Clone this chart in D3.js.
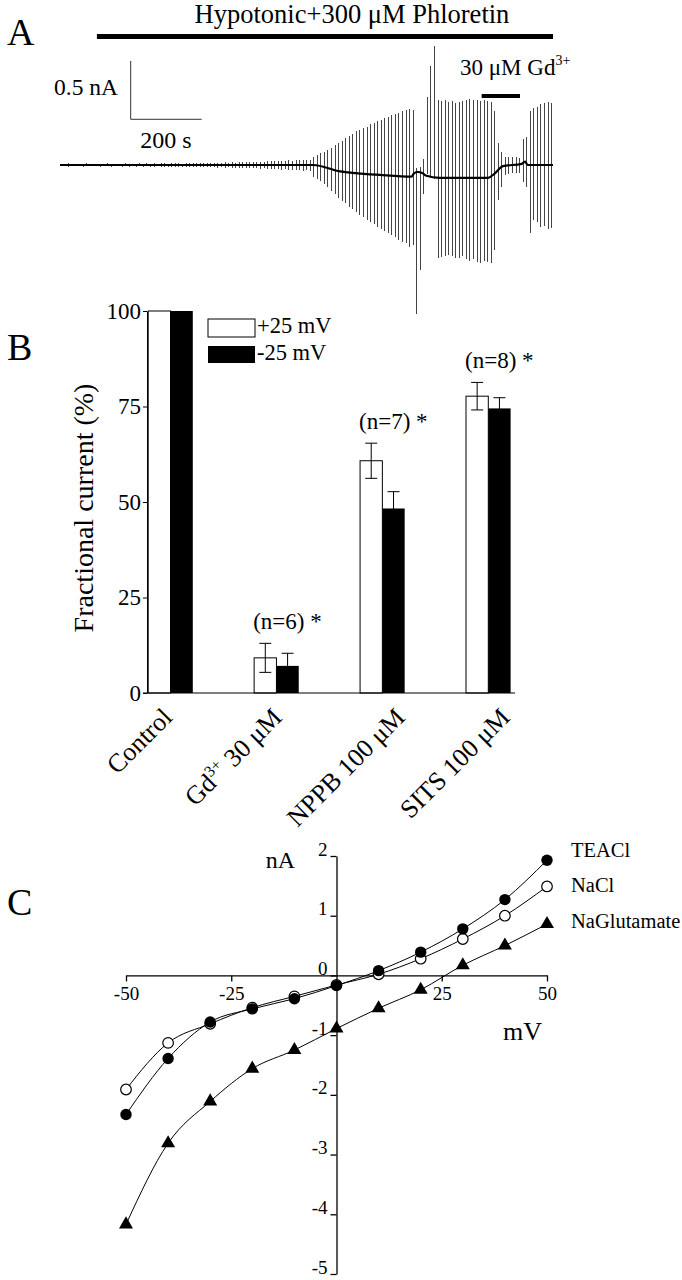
<!DOCTYPE html>
<html><head><meta charset="utf-8">
<script src="https://cdn.jsdelivr.net/npm/d3@7"></script>
<style>
body{margin:0;background:#fff}
svg{display:block}
text{font-family:"Liberation Serif","Times New Roman",serif;fill:#000}
</style>
</head><body>
<svg id="c" width="682" height="1280"></svg>
<script>
// ---------------- Panel A data (current trace) ----------------
const pulseStartS = 5;
const pulseIntervalS = 10;
const pulseUpper = [
.012,.010,.013,.011,.012,.010,.012,.013,.011,.012,
.010,.012,.011,.013,.012,.011,.012,.010,.013,.012,
.011,.012,.013,.012,.014,.012,.013,.011,.014,.013,
.012,.014,.013,.015,.012,.014,.013,.015,.014,.016,
.018,.017,.020,.019,.021,.018,.022,.020,.023,.021,.024,.022,.025,.023,.026,.024,
.030,.028,.034,.031,.036,.033,.038,.035,.040,.037,.042,.039,.044,.041,.046,
.07,.09,.10,.11,.13,.15,.17,.19,.21,.23,.25,.27,.29,.30,.32,.33,.35,.36,.38,.39,.40,.41,.43,.44,.45,.46,.47,.48,.47,
-.03,-.02,.05,.58,.85,1.02,
.56,.55,.56,.54,.55,.53,.54,.55,.56,.57,.56,.56,.55,.56,.55,
.54,.46,.19,.11,.07,.07,.07,.07,.06,
.22,.24,.46,.49,.50,.52,.53,.54,.53
];
const pulseLower = [
-.012,-.011,-.013,-.010,-.012,-.011,-.013,-.012,-.011,-.012,
-.011,-.013,-.012,-.011,-.013,-.012,-.011,-.013,-.012,-.014,
-.012,-.013,-.011,-.014,-.012,-.013,-.014,-.012,-.015,-.013,
-.014,-.013,-.015,-.014,-.016,-.014,-.015,-.016,-.015,-.017,
-.019,-.018,-.021,-.020,-.022,-.019,-.023,-.021,-.024,-.022,-.025,-.023,-.027,-.024,-.028,-.026,
-.032,-.030,-.036,-.033,-.038,-.035,-.041,-.037,-.043,-.040,-.045,-.042,-.048,-.044,-.050,
-.10,-.12,-.14,-.16,-.19,-.22,-.25,-.28,-.31,-.33,-.36,-.38,-.40,-.43,-.45,-.47,-.49,-.51,-.53,-.55,-.57,-.58,-.60,-.62,-.64,-.66,-.67,-.70,-.69,
-1.28,-.90,-.25,-.08,-.10,-.12,
-.80,-.79,-.78,-.77,-.78,-.80,-.80,-.78,-.81,-.82,-.81,-.83,-.84,-.82,-.83,
-.84,-.73,-.30,-.19,-.09,-.08,-.07,-.07,-.07,
-.15,-.19,-.58,-.47,-.49,-.53,-.52,-.55,-.54
];
const baselineT = [0, 713, 789, 901, 990, 998, 1008, 1022, 1030, 1070, 1206, 1222, 1248, 1301, 1310, 1318, 1389];
const baselineI = [0, 0, -0.055, -0.085, -0.10, -0.07, -0.06, -0.07, -0.09, -0.11, -0.11, -0.08, -0.01, 0.01, 0.03, 0.0, 0.0];
const phloretinT = [104, 1389];
const gdT = [1188, 1296];
const scaleBarI = 0.5;   // nA
const scaleBarT = 200;   // s

// ---------------- Panel B data ----------------
const categories = ["Control", "Gd", "NPPB", "SITS"];
const plus25 = [100, 9.2, 60.8, 77.7];
const plus25Err = [0, 3.8, 4.6, 3.6];
const minus25 = [100, 7.1, 48.3, 74.5];
const minus25Err = [0, 3.3, 4.4, 2.8];
const nLabels = ["", "(n=6) *", "(n=7) *", "(n=8) *"];
const bTicks = [0, 25, 50, 75, 100];

// ---------------- Panel C data ----------------
const mV = [-50, -40, -30, -20, -10, 0, 10, 20, 30, 40, 50];
const teacl = [-2.33, -1.39, -0.78, -0.56, -0.39, -0.17, 0.08, 0.39, 0.78, 1.27, 1.93];
const nacl  = [-1.91, -1.13, -0.81, -0.54, -0.35, -0.16, 0.02, 0.28, 0.61, 1.00, 1.49];
const naglu = [-4.17, -2.81, -2.11, -1.56, -1.25, -0.89, -0.55, -0.24, 0.17, 0.50, 0.86];
const cXTicks = [-50, -25, 25, 50];
const cYTicks = [2, 1, 0, -1, -2, -3, -4, -5];

// layout: horizontal offset of each rotated category label end
const catLabelDx = [3, 7, 24, 23];

const svg = d3.select("#c");
const F = '"Liberation Serif","Times New Roman",serif';
const plainNum = d => String(d);

// ================= Panel A =================
const xA = d3.scaleLinear().domain([0, 1389]).range([60, 553]);
const yA = d3.scaleLinear().domain([0, 0.5]).range([165, 106.7]);

svg.append("text").attr("x", 7).attr("y", 45).attr("font-size", 38).text("A");
svg.append("text").attr("x", 352).attr("y", 23).attr("text-anchor", "middle")
  .attr("font-size", 26.5).text("Hypotonic+300 \u03bcM Phloretin");
svg.append("line").attr("x1", xA(phloretinT[0])).attr("x2", xA(phloretinT[1]))
  .attr("y1", 36.5).attr("y2", 36.5).attr("stroke", "#000").attr("stroke-width", 5);

const gdText = svg.append("text").attr("x", 460).attr("y", 75).attr("font-size", 23);
gdText.append("tspan").text("30 \u03bcM Gd");
gdText.append("tspan").attr("font-size", 14).attr("dy", -10).text("3+");
svg.append("line").attr("x1", xA(gdT[0])).attr("x2", xA(gdT[1]))
  .attr("y1", 96).attr("y2", 96).attr("stroke", "#000").attr("stroke-width", 4);

// scale bar
const sbX = 130.7, sbY = 119.3;
const sbH = yA(0) - yA(scaleBarI), sbW = xA(scaleBarT) - xA(0);
svg.append("path").attr("d", `M${sbX},${sbY - sbH}V${sbY}H${sbX + sbW}`)
  .attr("fill", "none").attr("stroke", "#333").attr("stroke-width", 1);
svg.append("text").attr("x", 118).attr("y", 95).attr("text-anchor", "end").attr("font-size", 23.5).text("0.5 nA");
svg.append("text").attr("x", 166).attr("y", 148).attr("text-anchor", "middle").attr("font-size", 24).text("200 s");

// spikes
const pulses = pulseUpper.map((u, i) => ({ t: pulseStartS + i * pulseIntervalS, u, l: pulseLower[i] }));
svg.append("g").attr("shape-rendering", "crispEdges").selectAll("line").data(pulses).join("line")
  .attr("x1", d => xA(d.t)).attr("x2", d => xA(d.t))
  .attr("y1", d => yA(d.u)).attr("y2", d => yA(d.l))
  .attr("stroke", "#444").attr("stroke-width", 1);
// baseline
svg.append("path")
  .attr("d", d3.line().curve(d3.curveMonotoneX).x((d, i) => xA(baselineT[i])).y(d => yA(d))(baselineI))
  .attr("fill", "none").attr("stroke", "#000").attr("stroke-width", 2.2);

// ================= Panel B =================
const yB = d3.scaleLinear().domain([0, 100]).range([693, 311]);
const xB = d3.scalePoint().domain(categories).range([170.5, 488.3]);
const bw = 22.3;

svg.append("text").attr("x", 7).attr("y", 360).attr("font-size", 38).text("B");
svg.append("text").attr("transform", "translate(93,508) rotate(-90)")
  .attr("text-anchor", "middle").attr("font-size", 28).text("Fractional current (%)");

const gB = svg.append("g");
gB.selectAll("rect.w").data(categories).join("rect").attr("class", "w")
  .attr("x", d => xB(d) - bw).attr("width", bw)
  .attr("y", (d, i) => yB(plus25[i])).attr("height", (d, i) => yB(0) - yB(plus25[i]))
  .attr("fill", "#fff").attr("stroke", "#000").attr("stroke-width", 1);
gB.selectAll("rect.k").data(categories).join("rect").attr("class", "k")
  .attr("x", d => xB(d)).attr("width", bw)
  .attr("y", (d, i) => yB(minus25[i])).attr("height", (d, i) => yB(0) - yB(minus25[i]))
  .attr("fill", "#000");
function errBars(vals, errs, off, cls) {
  const data = categories.map((c, i) => ({ c, v: vals[i], e: errs[i] })).filter(d => d.e > 0);
  const g = gB.append("g").attr("class", cls);
  g.selectAll("path").data(data).join("path")
    .attr("d", d => {
      const x = xB(d.c) + off, t = yB(d.v + d.e), b = yB(d.v - d.e);
      return `M${x},${t}V${b}M${x - 6},${t}H${x + 6}M${x - 6},${b}H${x + 6}`;
    })
    .attr("fill", "none").attr("stroke", "#000").attr("stroke-width", 1);
}
errBars(plus25, plus25Err, -bw / 2, "ew");
errBars(minus25, minus25Err, bw / 2, "ek");

gB.selectAll("text.n").data(categories).join("text").attr("class", "n")
  .attr("x", d => xB(d) - bw - 1)
  .attr("y", (d, i) => yB(plus25[i] + plus25Err[i]) - 14)
  .attr("font-size", 23)
  .text((d, i) => nLabels[i]);

const axB = d3.axisLeft(yB).tickValues(bTicks).tickSize(4).tickSizeOuter(0).tickPadding(2).tickFormat(plainNum);
const gAxB = svg.append("g").attr("transform", "translate(147,0)").call(axB);
gAxB.selectAll("text").attr("font-family", F).attr("font-size", 23).attr("fill", "#000");
gAxB.selectAll("line,path").attr("stroke", "#000");
svg.append("line").attr("x1", 143).attr("x2", 515).attr("y1", yB(0)).attr("y2", yB(0))
  .attr("stroke", "#000").attr("stroke-width", 1.2);

svg.append("rect").attr("x", 208).attr("y", 319).attr("width", 47).attr("height", 18)
  .attr("fill", "#fff").attr("stroke", "#000");
svg.append("rect").attr("x", 208).attr("y", 346).attr("width", 47).attr("height", 17).attr("fill", "#000");
svg.append("text").attr("x", 257).attr("y", 333).attr("font-size", 22.5).text("+25 mV");
svg.append("text").attr("x", 257).attr("y", 360).attr("font-size", 22.5).text("-25 mV");

const catLab = gB.selectAll("text.cat").data(categories).join("text").attr("class", "cat")
  .attr("text-anchor", "end").attr("font-size", 26)
  .attr("transform", (d, i) => `translate(${xB(d) + catLabelDx[i]},719) rotate(-45)`);
catLab.each(function (d) {
  const t = d3.select(this);
  if (d === "Gd") {
    t.append("tspan").text("Gd");
    t.append("tspan").attr("font-size", 16).attr("dy", -10).text("3+");
    t.append("tspan").attr("dy", 10).text(" 30 \u03bcM");
  } else if (d === "Control") {
    t.text("Control");
  } else {
    t.text(d + " 100 \u03bcM");
  }
});

// ================= Panel C =================
const xC = d3.scaleLinear().domain([-50, 50]).range([126, 547]);
const yC = d3.scaleLinear().domain([2, -5]).range([856, 1274]);

svg.append("text").attr("x", 7).attr("y", 915).attr("font-size", 38).text("C");

const axCx = d3.axisBottom(xC).tickValues(cXTicks).tickSize(6).tickSizeOuter(0).tickFormat(plainNum);
const gCx = svg.append("g").attr("transform", `translate(0,${yC(0)})`).call(axCx);
const axCy = d3.axisLeft(yC).tickValues(cYTicks).tickSize(6).tickSizeOuter(0).tickFormat(plainNum);
const gCy = svg.append("g").attr("transform", `translate(${xC(0)},0)`).call(axCy);
[gCx, gCy].forEach(g => {
  g.selectAll("text").attr("font-family", F).attr("font-size", 19).attr("fill", "#000");
  g.selectAll("line,path").attr("stroke", "#000").attr("stroke-width", 1.3);
});
gCy.selectAll("text").attr("dy", "-0.05em");
gCx.selectAll("text").attr("dy", "0.8em");

svg.append("text").attr("x", 295).attr("y", 868).attr("text-anchor", "end").attr("font-size", 24).text("nA");
svg.append("text").attr("x", 503).attr("y", 1040).attr("font-size", 26).text("mV");

const lineC = d3.line().curve(d3.curveMonotoneX).x((d, i) => xC(mV[i])).y(d => yC(d));
[naglu, nacl, teacl].forEach(s => {
  svg.append("path").attr("d", lineC(s)).attr("fill", "none").attr("stroke", "#000").attr("stroke-width", 1);
});
const tri = d3.symbol().type(d3.symbolTriangle).size(85);
svg.append("g").selectAll("path").data(naglu).join("path")
  .attr("transform", (d, i) => `translate(${xC(mV[i])},${yC(d)})`).attr("d", tri()).attr("fill", "#000");
svg.append("g").selectAll("circle").data(nacl).join("circle")
  .attr("cx", (d, i) => xC(mV[i])).attr("cy", d => yC(d)).attr("r", 5.3)
  .attr("fill", "#fff").attr("stroke", "#000").attr("stroke-width", 1.2);
svg.append("g").selectAll("circle").data(teacl).join("circle")
  .attr("cx", (d, i) => xC(mV[i])).attr("cy", d => yC(d)).attr("r", 5.7).attr("fill", "#000");

svg.append("text").attr("x", 571).attr("y", 857).attr("font-size", 20.5).text("TEACl");
svg.append("text").attr("x", 571).attr("y", 892).attr("font-size", 20.5).text("NaCl");
svg.append("text").attr("x", 571).attr("y", 928).attr("font-size", 20.5).text("NaGlutamate");
</script>
</body></html>
